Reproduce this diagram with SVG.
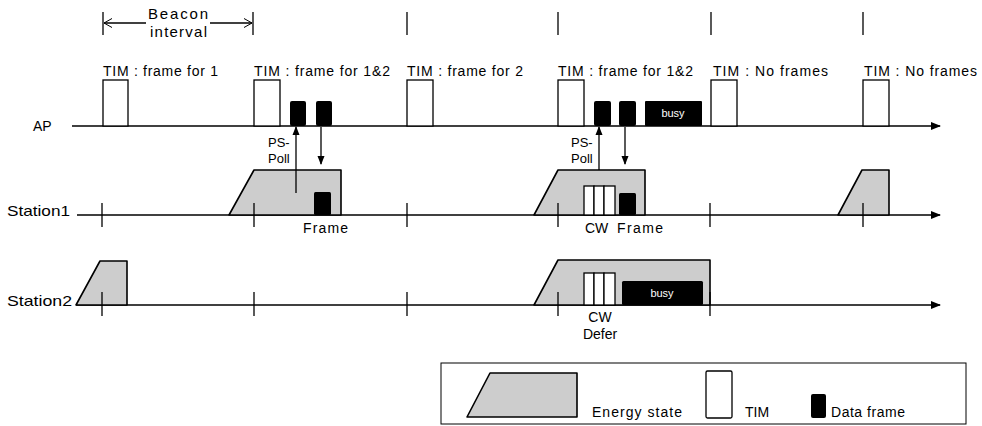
<svg xmlns="http://www.w3.org/2000/svg" width="982" height="426" viewBox="0 0 982 426">
<defs>
<marker id="axisArrow" markerWidth="10" markerHeight="8" refX="9" refY="4" orient="auto" markerUnits="userSpaceOnUse"><path d="M0,0 L10,4 L0,8 z" fill="#000"/></marker>
<marker id="smallArrow" markerWidth="9" markerHeight="8" refX="8" refY="4" orient="auto" markerUnits="userSpaceOnUse"><path d="M0,0.5 L9,4 L0,7.5 z" fill="#000"/></marker>
<marker id="openArrow" markerWidth="9" markerHeight="10" refX="8" refY="5" orient="auto-start-reverse" markerUnits="userSpaceOnUse"><path d="M0,0.5 L8,5 L0,9.5" fill="none" stroke="#000" stroke-width="1"/></marker>
</defs>
<style>
.t{font-family:"Liberation Sans",Arial,sans-serif;font-size:14px;fill:#000}
.s{font-size:13px}
.b{font-size:15px}
.w{fill:#fff;font-size:11px}
.tim{fill:#fff;stroke:#000;stroke-width:1.3}
.df{fill:#000}
.es{fill:#cdcdcd;stroke:#000;stroke-width:1.6;stroke-linejoin:round}
.ax{stroke:#000;stroke-width:1.3;fill:none}
.tk{stroke:#000;stroke-width:1.3}
.lg{fill:#fff;stroke:#000;stroke-width:1}
</style>

<g id="axes">
<line class="ax" x1="72" y1="126" x2="940" y2="126" marker-end="url(#axisArrow)"/>
<line class="ax" x1="77" y1="215" x2="940" y2="215" marker-end="url(#axisArrow)"/>
<line class="ax" x1="76" y1="305" x2="940" y2="305" marker-end="url(#axisArrow)"/>
</g>

<g id="labels">
<text class="t" x="33" y="131">AP</text>
<text class="t b" x="7" y="216" textLength="63" lengthAdjust="spacingAndGlyphs">Station1</text>
<text class="t b" x="7" y="306" textLength="65" lengthAdjust="spacingAndGlyphs">Station2</text>
</g>

<g id="beacon-interval">
<line class="tk" x1="103" y1="12" x2="103" y2="35"/>
<line class="tk" x1="253" y1="12" x2="253" y2="35"/>
<line class="ax" x1="104" y1="23" x2="146" y2="23" stroke-width="1" marker-start="url(#openArrow)"/>
<line class="ax" x1="210" y1="23" x2="252" y2="23" stroke-width="1" marker-end="url(#openArrow)"/>
<text class="t b" x="148" y="19" textLength="60" lengthAdjust="spacing">Beacon</text>
<text class="t b" x="150" y="37" textLength="57" lengthAdjust="spacing">interval</text>
</g>

<g id="top-ticks">
<line class="tk" x1="407" y1="12" x2="407" y2="35"/>
<line class="tk" x1="558" y1="12" x2="558" y2="35"/>
<line class="tk" x1="711" y1="12" x2="711" y2="35"/>
<line class="tk" x1="863" y1="12" x2="863" y2="35"/>
</g>

<g id="tim-labels">
<text class="t" x="103" y="76" textLength="115" lengthAdjust="spacing">TIM : frame for 1</text>
<text class="t" x="254" y="76" textLength="136" lengthAdjust="spacing">TIM : frame for 1&amp;2</text>
<text class="t" x="407" y="76" textLength="116" lengthAdjust="spacing">TIM : frame for 2</text>
<text class="t" x="558" y="76" textLength="135" lengthAdjust="spacing">TIM : frame for 1&amp;2</text>
<text class="t" x="713" y="76" textLength="115" lengthAdjust="spacing">TIM : No frames</text>
<text class="t" x="864" y="76" textLength="113" lengthAdjust="spacing">TIM : No frames</text>
</g>

<g id="ap-tim">
<rect class="tim" x="103" y="80" width="25" height="46"/>
<rect class="tim" x="254" y="80" width="26" height="46"/>
<rect class="tim" x="407" y="80" width="26" height="46"/>
<rect class="tim" x="558" y="80" width="26" height="46"/>
<rect class="tim" x="711" y="80" width="26" height="46"/>
<rect class="tim" x="863" y="80" width="26" height="46"/>
</g>

<g id="ap-data">
<rect class="df" x="290" y="101" width="16" height="25" rx="2"/>
<rect class="df" x="316" y="101" width="16" height="25" rx="2"/>
<rect class="df" x="594" y="101" width="17" height="25" rx="2"/>
<rect class="df" x="619" y="101" width="17" height="25" rx="2"/>
<rect class="df" x="645" y="101" width="57" height="25" rx="1"/>
<text class="t w" x="673" y="117" text-anchor="middle">busy</text>
</g>

<g id="station1-es1">
<polygon class="es" points="229,215 254,170 341,170 341,215"/>
<rect class="df" x="314" y="192" width="17" height="23" rx="1.5"/>
<text class="t" x="303" y="233" textLength="45" lengthAdjust="spacing">Frame</text>
</g>

<g id="station1-es2">
<polygon class="es" points="534,215 558,170 645,170 645,215"/>
<rect class="tim" x="584" y="186" width="10" height="29"/>
<rect class="tim" x="594" y="186" width="10" height="29"/>
<rect class="tim" x="604" y="186" width="11" height="29"/>
<rect class="df" x="619" y="193" width="17" height="22" rx="1.5"/>
<text class="t" x="585" y="233">CW</text>
<text class="t" x="617" y="233" textLength="46" lengthAdjust="spacing">Frame</text>
</g>

<g id="station1-es3">
<polygon class="es" points="838,215 862,170 889,170 889,215"/>
</g>

<g id="station2-es1">
<polygon class="es" points="76,305 100,261 127,261 127,305"/>
</g>

<g id="station2-es2">
<polygon class="es" points="534,305 558,260 710,260 710,305"/>
<rect class="tim" x="584" y="273" width="10" height="32"/>
<rect class="tim" x="594" y="273" width="10" height="32"/>
<rect class="tim" x="604" y="273" width="11" height="32"/>
<rect class="df" x="622" y="281" width="81" height="24" rx="1.5"/>
<text class="t w" x="662" y="297" text-anchor="middle">busy</text>
<text class="t" x="600" y="322" text-anchor="middle">CW</text>
<text class="t" x="600" y="339" text-anchor="middle">Defer</text>
</g>

<g id="station-ticks">
<line class="tk" x1="102" y1="203" x2="102" y2="227"/>
<line class="tk" x1="254" y1="203" x2="254" y2="227"/>
<line class="tk" x1="407" y1="203" x2="407" y2="227"/>
<line class="tk" x1="558" y1="203" x2="558" y2="227"/>
<line class="tk" x1="710" y1="203" x2="710" y2="227"/>
<line class="tk" x1="863" y1="203" x2="863" y2="227"/>
<line class="tk" x1="102" y1="292" x2="102" y2="316"/>
<line class="tk" x1="254" y1="292" x2="254" y2="316"/>
<line class="tk" x1="407" y1="292" x2="407" y2="316"/>
<line class="tk" x1="558" y1="292" x2="558" y2="316"/>
<line class="tk" x1="710" y1="292" x2="710" y2="316"/>
</g>

<g id="connectors">
<line class="ax" x1="296" y1="193" x2="296" y2="127" marker-end="url(#smallArrow)"/>
<line class="ax" x1="321" y1="127" x2="321" y2="164" marker-end="url(#smallArrow)"/>
<line class="ax" x1="599" y1="170" x2="599" y2="127" marker-end="url(#smallArrow)"/>
<line class="ax" x1="625" y1="127" x2="625" y2="164" marker-end="url(#smallArrow)"/>
</g>

<g id="pspoll-labels">
<text class="t s" x="268" y="147">PS-</text>
<text class="t s" x="268" y="163">Poll</text>
<text class="t s" x="571" y="147">PS-</text>
<text class="t s" x="571" y="163">Poll</text>
</g>

<g id="legend">
<rect class="lg" x="441" y="363" width="525" height="61"/>
<polygon class="es" points="467,417 490,373 577,373 577,417"/>
<text class="t" x="592" y="417" textLength="90" lengthAdjust="spacing">Energy state</text>
<rect class="tim" x="706" y="371" width="26" height="47" rx="1.5"/>
<text class="t" x="745" y="417">TIM</text>
<rect class="df" x="811" y="394" width="15" height="24" rx="2"/>
<text class="t" x="831" y="417" textLength="74" lengthAdjust="spacing">Data frame</text>
</g>
</svg>
